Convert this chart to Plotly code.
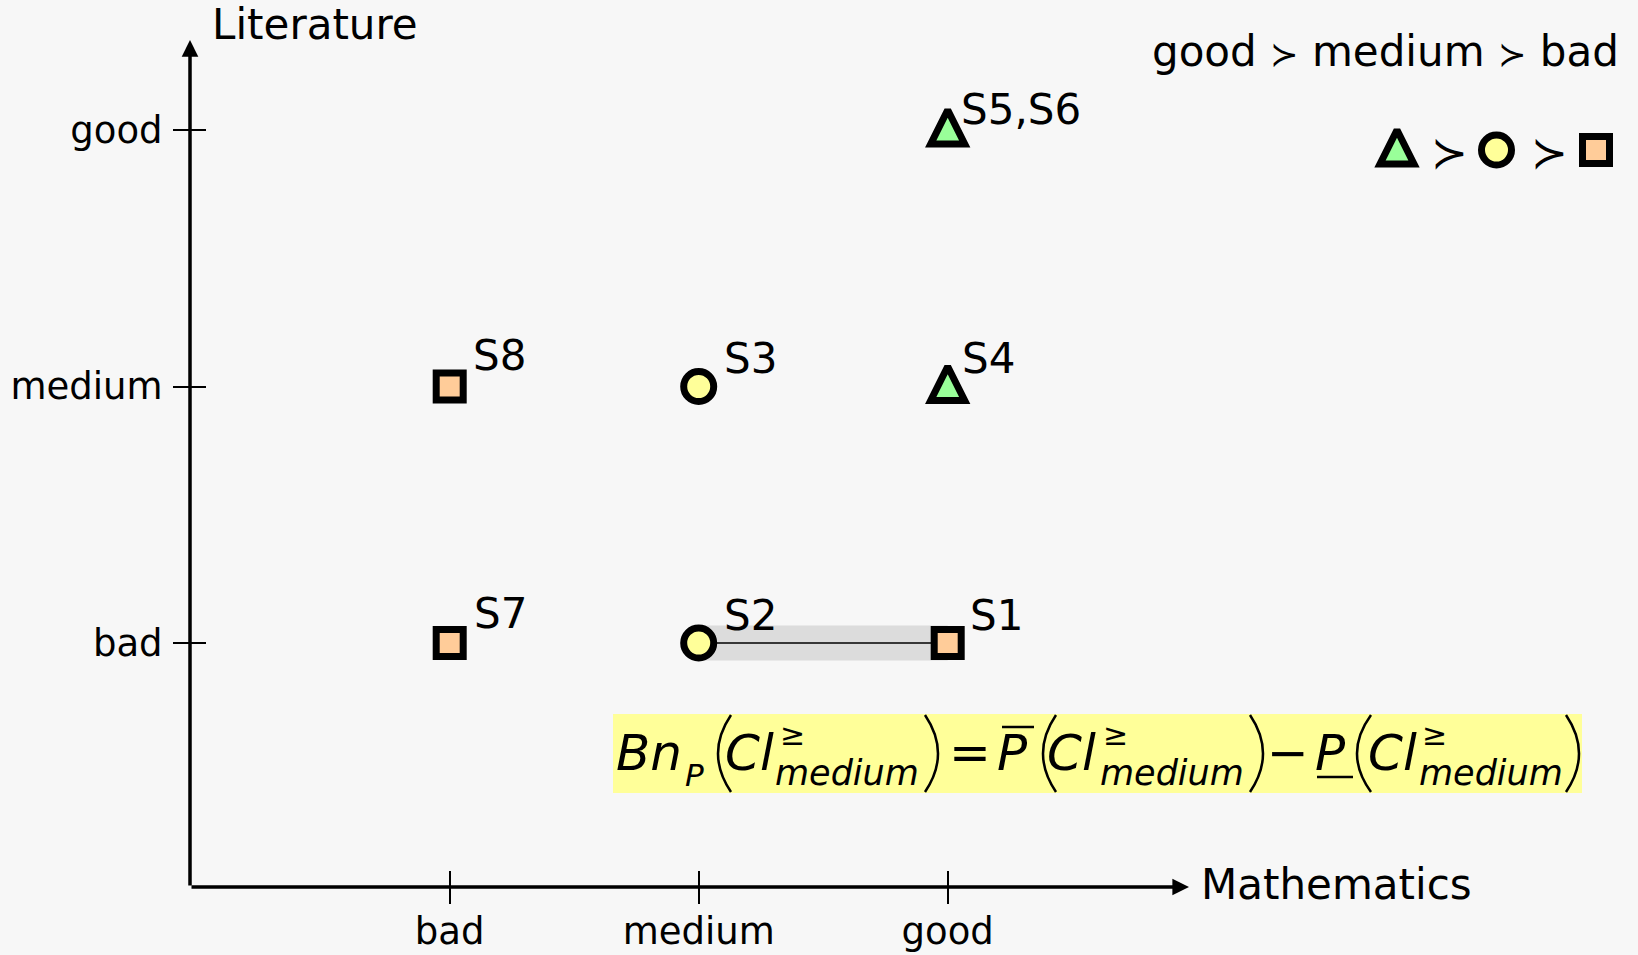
import plotly.graph_objects as go

W, H = 1638, 955

# ---------------- data ----------------
CATS = ["bad", "medium", "good"]                       # tick labels, both axes
STUDENTS = ["S1", "S2", "S3", "S4", "S5,S6", "S7", "S8"]
MATH = ["good", "medium", "medium", "good", "good", "bad", "bad"]
LIT = ["bad", "bad", "medium", "medium", "good", "bad", "medium"]
CLASS = ["bad", "medium", "medium", "good", "good", "bad", "bad"]
PAIR = ["S2", "S1"]                                    # highlighted inconsistency
ORDER = ["good", "medium", "bad"]                      # preference order
X_TITLE = "Mathematics"
Y_TITLE = "Literature"

# ---------------- styles ----------------
FONT = "DejaVu Sans"
BG = "#f7f7f7"
MLINE = 7
STYLE = {
    "good": dict(symbol="arrow-down", angle=180, standoff=20, color="#99ff99", size=34),
    "medium": dict(symbol="circle", angle=0, standoff=0, color="#ffff99", size=30),
    "bad": dict(symbol="square", angle=0, standoff=0, color="#ffcc99", size=27),
}
LABEL_SHIFT = (20, 28)
LABEL_NUDGE = {"S5,S6": (-9, -7), "S4": (-8, 0), "S3": (3, 0), "S2": (3, 0),
               "S8": (1, 3), "S7": (2, 2)}


def px(x):
    return x / W


def py(y):
    return 1 - y / H


def marker(c):
    st = STYLE[c]
    return dict(symbol=st["symbol"], angle=st["angle"], standoff=st["standoff"],
                size=st["size"], color=st["color"],
                line=dict(color="black", width=MLINE))


# geometry (pixels)
X0_PX, X1_PX = 190, 1189
Y0_PX, Y1_PX = 887, 40
XC0, XSTEP = 449.7, 249
YC0, YSTEP = 643, 256.5
XRANGE = [(X0_PX - XC0) / XSTEP, (X1_PX - XC0) / XSTEP]
YRANGE = [-(Y0_PX - YC0) / YSTEP, (YC0 - Y1_PX) / YSTEP]

idx = {c: i for i, c in enumerate(CATS)}
xs = [idx[m] for m in MATH]
ys = [idx[l] for l in LIT]

fig = go.Figure()

# band + line between the pair
ia, ib = STUDENTS.index(PAIR[0]), STUDENTS.index(PAIR[1])
fig.add_trace(go.Scatter(x=[xs[ia], xs[ib]], y=[ys[ia], ys[ib]], mode="lines",
                         line=dict(color="#dcdcdc", width=35), hoverinfo="skip",
                         showlegend=False))
fig.add_trace(go.Scatter(x=[xs[ia], xs[ib]], y=[ys[ia], ys[ib]], mode="lines",
                         line=dict(color="black", width=1.5), hoverinfo="skip",
                         showlegend=False))

# markers by class
for c in CATS:
    sel = [i for i, k in enumerate(CLASS) if k == c]
    fig.add_trace(go.Scatter(
        x=[xs[i] for i in sel], y=[ys[i] for i in sel], mode="markers",
        marker=marker(c), cliponaxis=False, showlegend=False, hoverinfo="skip"))

# point labels
for s, x, y in zip(STUDENTS, xs, ys):
    nx, ny = LABEL_NUDGE.get(s, (0, 0))
    fig.add_annotation(x=x, y=y, xref="x", yref="y", text=s, showarrow=False,
                       xanchor="left", yanchor="middle",
                       xshift=LABEL_SHIFT[0] + nx, yshift=LABEL_SHIFT[1] + ny,
                       font=dict(family=FONT, size=42, color="black"))

# empty traces on the overlay tick axes
fig.add_trace(go.Scatter(x=[None], y=[None], xaxis="x2", yaxis="y",
                         showlegend=False, hoverinfo="skip"))
fig.add_trace(go.Scatter(x=[None], y=[None], xaxis="x", yaxis="y2",
                         showlegend=False, hoverinfo="skip"))

# legend of classes (top right)
for i, c in enumerate(ORDER):
    fig.add_trace(go.Scatter(
        x=[i], y=[0], xaxis="x3", yaxis="y3", mode="markers", marker=marker(c),
        cliponaxis=False, showlegend=False, hoverinfo="skip"))
for i in range(len(ORDER) - 1):
    fig.add_annotation(x=i + 0.5, y=0, xref="x3", yref="y3", text="≻",
                       showarrow=False, xanchor="center", yanchor="middle",
                       xshift=3, yshift=-2, font=dict(family=FONT, size=44, color="black"))

# preference text
fig.add_annotation(x=px(1621), y=py(52), xref="paper", yref="paper",
                   text=' <span style="font-size:34px">≻</span> '.join(ORDER),
                   showarrow=False, xanchor="right", yanchor="middle",
                   font=dict(family=FONT, size=42, color="black"))

# axis titles
fig.add_annotation(x=px(210), y=py(25), xref="paper", yref="paper", text=Y_TITLE,
                   showarrow=False, xanchor="left", yanchor="middle",
                   font=dict(family=FONT, size=42, color="black"))
fig.add_annotation(x=px(1199), y=py(884), xref="paper", yref="paper", text=X_TITLE,
                   showarrow=False, xanchor="left", yanchor="middle",
                   font=dict(family=FONT, size=42, color="black"))

# axis arrows
fig.add_annotation(x=px(X1_PX), y=py(Y0_PX), xref="paper", yref="paper",
                   ax=-(X1_PX - X0_PX), ay=0, text="", showarrow=True,
                   arrowhead=2, arrowsize=0.95, arrowwidth=3.5, arrowcolor="black")
fig.add_annotation(x=px(X0_PX), y=py(Y1_PX), xref="paper", yref="paper",
                   ax=0, ay=(Y0_PX - Y1_PX), text="", showarrow=True,
                   arrowhead=2, arrowsize=0.95, arrowwidth=3.5, arrowcolor="black")

# formula box and formula
fig.add_shape(type="rect", xref="paper", yref="paper", x0=px(613), x1=px(1582),
              y0=py(793), y1=py(714), fillcolor="#ffff99", line=dict(width=0),
              layer="below")
FORMULA = [
    # text, origin x, baseline, size, kind
    ("Bn", 615, 770, 50, "it"),
    ("P", 684, 786, 31, "it"),
    ("Cl", 724, 770, 50, "it"),
    ("≥", 779, 745, 30, "rm"),
    ("medium", 774, 785, 35, "it"),
    ("=", 948, 770, 50, "rm"),
    ("P", 996, 770, 50, "it"),
    ("Cl", 1046, 770, 50, "it"),
    ("≥", 1102, 745, 30, "rm"),
    ("medium", 1099, 785, 35, "it"),
    ("−", 1266, 770, 50, "rm"),
    ("P", 1314, 770, 50, "it"),
    ("Cl", 1367, 770, 50, "it"),
    ("≥", 1421, 745, 30, "rm"),
    ("medium", 1418, 785, 35, "it"),
]
for t, x, base, size, kind in FORMULA:
    txt = f"<i>{t}</i>" if kind == "it" else t
    fig.add_annotation(x=px(x), y=py(base - 0.346 * size), xref="paper", yref="paper",
                       text=txt, showarrow=False, xanchor="left", yanchor="middle",
                       borderpad=0, font=dict(family=FONT, size=size, color="black"))
# tall thin parentheses: (inner x, outer bulge x)
PARENS = [(731, 718), (925, 938), (1056, 1043), (1250, 1263), (1371, 1357), (1566, 1579)]
P_TOP, P_BOT = 715, 792
for xe, xb in PARENS:
    xc = 2 * xb - xe
    path = (f"M {px(xe)},{py(P_TOP)} Q {px(xc)},{py((P_TOP + P_BOT) / 2)} "
            f"{px(xe)},{py(P_BOT)}")
    fig.add_shape(type="path", xref="paper", yref="paper", path=path,
                  line=dict(color="black", width=2.5))
# bar over / under P
fig.add_shape(type="line", xref="paper", yref="paper", x0=px(1002), x1=px(1034),
              y0=py(727), y1=py(727), line=dict(color="black", width=2.5))
fig.add_shape(type="line", xref="paper", yref="paper", x0=px(1317), x1=px(1353),
              y0=py(777), y1=py(777), line=dict(color="black", width=2.5))

tick_common = dict(tickmode="array", tickvals=list(range(len(CATS))), showgrid=False,
                   zeroline=False, showline=False, tickwidth=1.5, tickcolor="black",
                   ticklen=16, fixedrange=True)
fig.update_layout(
    width=W, height=H, autosize=False,
    margin=dict(l=0, r=0, t=0, b=0, pad=0),
    paper_bgcolor=BG, plot_bgcolor=BG,
    showlegend=False,
    xaxis=dict(domain=[px(X0_PX), px(X1_PX)], range=XRANGE, ticks="outside",
               ticktext=CATS, tickfont=dict(family=FONT, size=37, color="black"),
               ticklabelstandoff=-4, anchor="y", **tick_common),
    yaxis=dict(domain=[py(Y0_PX), py(Y1_PX)], range=YRANGE, ticks="outside",
               ticktext=CATS, tickfont=dict(family=FONT, size=37, color="black"),
               ticklabelstandoff=3, anchor="x", **tick_common),
    xaxis2=dict(overlaying="x", anchor="y", range=XRANGE, ticks="inside",
                showticklabels=False, side="bottom", **tick_common),
    yaxis2=dict(overlaying="y", anchor="x", range=YRANGE, ticks="inside",
                showticklabels=False, side="left", **tick_common),
    xaxis3=dict(domain=[px(1357.2), px(1635.8)], range=[-0.4, 2.4], anchor="y3",
                visible=False, fixedrange=True),
    yaxis3=dict(domain=[py(180), py(120)], range=[-1, 1], anchor="x3",
                visible=False, fixedrange=True),
)

fig.write_html(
    "out.html", include_plotlyjs=True, full_html=True,
    config={"displayModeBar": False},
    post_script=(
        "document.body.style.margin='0';"
        "document.body.style.background='#f7f7f7';"
        "document.documentElement.style.overflow='hidden';"
        "document.body.style.overflow='hidden';"
        "var gd=document.getElementById('{plot_id}');"
        "gd.style.overflow='hidden';"
    ),
)
